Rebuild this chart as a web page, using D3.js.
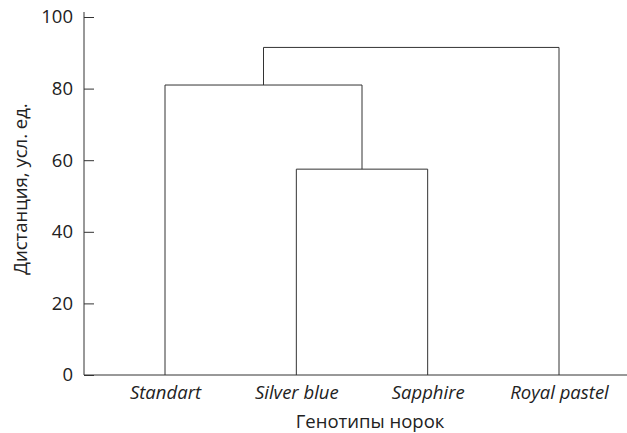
<!DOCTYPE html>
<html><head><meta charset="utf-8">
<script src="https://cdn.jsdelivr.net/npm/d3@7"></script>
<style>body{margin:0;background:#fff}svg{display:block}</style>
</head><body>
<svg id="c" width="627" height="433"></svg>
<script>
// Data
const genotypes = ["Standart", "Silver blue", "Sapphire", "Royal pastel"];
// Merges: children are leaf indices or "m<k>" for earlier merges
const mergeLeft = [1, 0, "m1"];
const mergeRight = [2, "m0", 3];
const mergeHeight = [57.5, 81, 91.5];
const yTicks = [0, 20, 40, 60, 80, 100];
const xTitle = "Генотипы норок";
const yTitle = "Дистанция, усл. ед.";

const svg = d3.select("#c");
const font = "'Open Sans', sans-serif";
const col = "#333";
const fs = 18.5;
const x = d3.scalePoint().domain(genotypes).range([165, 559]);
const y = d3.scaleLinear().domain([0, 100]).range([375, 17]);
const axisX0 = 84;

// node positions
const pos = {};
genotypes.forEach((g, i) => pos[i] = {x: x(g), h: 0});
mergeHeight.forEach((h, k) => {
  const a = pos[mergeLeft[k]], b = pos[mergeRight[k]];
  pos["m" + k] = {x: (a.x + b.x) / 2, h: h};
  const pl = d3.path();
  pl.moveTo(a.x, y(a.h)); pl.lineTo(a.x, y(h)); pl.lineTo(b.x, y(h)); pl.lineTo(b.x, y(b.h));
  svg.append("path").attr("d", pl.toString()).attr("fill", "none")
    .attr("stroke", col).attr("stroke-width", 1);
});

// y axis
const ya = svg.append("g").attr("transform", `translate(${axisX0},0)`)
  .call(d3.axisRight(y).tickValues(yTicks).tickSize(10).tickFormat(d3.format("d")));
ya.select(".domain").remove();
ya.selectAll(".tick line").attr("stroke", col);
ya.selectAll(".tick text").attr("x", -11).attr("text-anchor", "end")
  .attr("font-family", font).attr("font-size", fs).attr("fill", "#222");
svg.append("line").attr("x1", axisX0).attr("x2", axisX0).attr("y1", 12).attr("y2", y(0))
  .attr("stroke", col);

// x axis
svg.append("line").attr("x1", axisX0).attr("x2", 627).attr("y1", y(0)).attr("y2", y(0))
  .attr("stroke", col);
const xa = svg.append("g").attr("transform", `translate(0,${y(0)})`)
  .call(d3.axisBottom(x).tickSize(0).tickPadding(0));
xa.select(".domain").remove();
xa.selectAll(".tick text").attr("y", 24).attr("dy", 0)
  .attr("font-family", font).attr("font-size", fs).attr("font-style", "italic").attr("fill", "#222");

svg.append("text").attr("x", 370).attr("y", 428).attr("text-anchor", "middle")
  .attr("font-family", font).attr("font-size", fs).attr("fill", "#222").text(xTitle);
svg.append("text").attr("transform", "translate(27,189) rotate(-90)").attr("text-anchor", "middle")
  .attr("font-family", font).attr("font-size", fs).attr("fill", "#222").text(yTitle);
</script>
</body></html>
